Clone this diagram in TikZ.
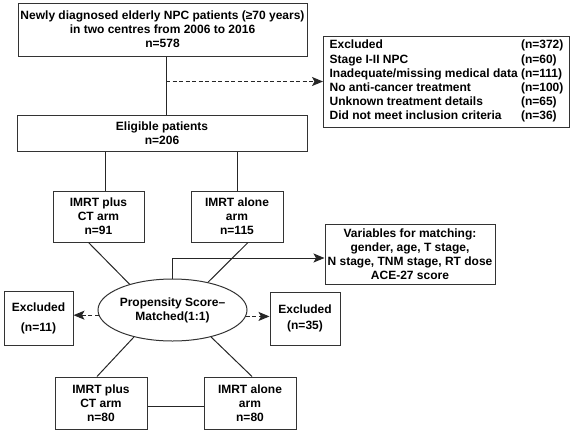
\documentclass[tikz,border=0pt]{standalone}
\usepackage{fontspec}
\setmainfont{Liberation Sans}
\usetikzlibrary{shapes.geometric,arrows.meta}

\begin{document}
\begin{tikzpicture}[x=1pt,y=-1pt,
    box/.style={draw=black!80,line width=1pt,rectangle,inner sep=2pt,align=center,
      font=\fontsize{12}{14}\selectfont\bfseries},
    conn/.style={draw=black!85,line width=1pt},
    arrowhd/.style={-{Stealth[length=11pt,width=9pt,inset=2.5pt]}},
    dashln/.style={dash pattern=on 4pt off 2.5pt}]

  \useasboundingbox (0,0) rectangle (575,434);

  % boxes
  \node[box,minimum width=289pt,minimum height=53pt] (newly) at (162.5,29.5)
    {Newly diagnosed elderly NPC patients (≥70 years)\\in two centres from 2006 to 2016\\n=578};
  \node[box,minimum width=246pt,minimum height=91pt,inner xsep=4pt,anchor=west] (excl) at (323,81.5)
    {\fontsize{12}{14.2}\selectfont\bfseries
     \begin{tabular}{@{}l@{ }l@{}}
       Excluded & (n=372)\\
       Stage I-II NPC & (n=60)\\
       Inadequate/missing medical data & (n=111)\\
       No anti-cancer treatment & (n=100)\\
       Unknown treatment details & (n=65)\\
       Did not meet inclusion criteria & (n=36)
     \end{tabular}};
  \node[box,minimum width=290pt,minimum height=36pt] (elig) at (162,133) {Eligible patients\\n=206};
  \node[box,minimum width=91pt,minimum height=51pt] (plusA) at (98.5,216.5) {IMRT plus\\CT arm\\n=91};
  \node[box,minimum width=92pt,minimum height=51pt] (aloneA) at (237,216.5) {IMRT alone\\arm\\n=115};
  \node[box,minimum width=170pt,minimum height=60pt] (vars) at (410,254)
    {Variables for matching:\\gender, age, T stage,\\N stage, TNM stage, RT dose\\ACE-27 score};
  \node[box,shape=ellipse,inner sep=0pt,minimum width=137pt,minimum height=62pt] (psm) at (172.5,310)
    {Propensity Score–\\Matched(1:1)};
  \node[box,minimum width=69pt,minimum height=54pt] (exL) at (38.5,318) {Excluded\\[6pt](n=11)};
  \node[box,minimum width=70pt,minimum height=53pt] (exR) at (305,318.5) {Excluded\\[2pt](n=35)};
  \node[box,minimum width=92pt,minimum height=52pt] (plusB) at (101,403) {IMRT plus\\CT arm\\n=80};
  \node[box,minimum width=92pt,minimum height=52pt] (aloneB) at (250,403) {IMRT alone\\arm\\n=80};

  % connectors
  \coordinate (split) at ([xshift=3.5pt]newly.south |- excl.west);
  \draw[conn] ([xshift=3.5pt]newly.south) -- ([xshift=3.5pt]newly.south |- elig.north);
  \draw[conn,dashln,arrowhd] (split) -- (excl.west);

  \draw[conn] ([xshift=6.5pt]plusA.north |- elig.south) -- ([xshift=6.5pt]plusA.north);
  \draw[conn] (aloneA.north |- elig.south) -- (aloneA.north);

  \draw[conn] ([xshift=-10pt]plusA.south) -- (psm.149);
  \draw[conn] ([xshift=11pt]aloneA.south) -- (psm.38);
  \draw[conn,arrowhd] (psm.north) |- ([yshift=-4pt]vars.west);

  \draw[conn,dashln,arrowhd] (psm.184) -- (psm.184 -| exL.east);
  \draw[conn,dashln,arrowhd] (psm.355) -- (psm.355 -| exR.west);

  \draw[conn] (psm.215) -- ([xshift=-4pt]plusB.north);
  \draw[conn] (psm.325) -- ([xshift=2pt]aloneB.north);
  \draw[conn] ([yshift=-3pt]plusB.east) -- ([yshift=-3pt]aloneB.west);

\end{tikzpicture}
\end{document}
